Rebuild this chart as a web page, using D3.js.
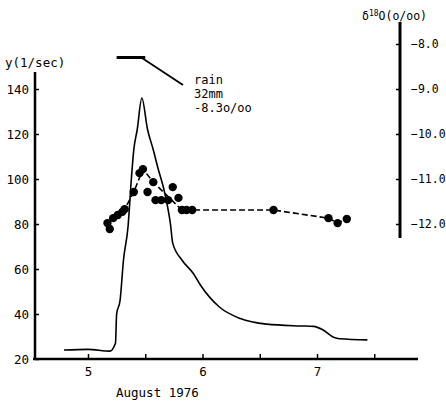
<!DOCTYPE html>
<html>
<head>
<meta charset="utf-8">
<script src="https://cdn.jsdelivr.net/npm/d3@7"></script>
<style>
  body { margin: 0; background: #fff; }
  svg text { font-family: "DejaVu Sans Mono", "Liberation Mono", monospace; fill: #000; }
</style>
</head>
<body>
<svg id="chart" width="446" height="401"></svg>
<script>
// discharge y (l/sec) over time (day of August 1976)
var flowDay = [4.79, 5.00, 5.19, 5.24, 5.25, 5.28, 5.31, 5.35, 5.38, 5.40, 5.43, 5.47, 5.52, 5.57, 5.61, 5.66, 5.69, 5.72, 5.74, 5.82, 5.92, 5.98, 6.15, 6.33, 6.56, 6.85, 6.97, 7.05, 7.14, 7.20, 7.44];
var flowVal = [24, 24.3, 23.5, 27, 40, 46, 64, 79, 101, 113, 122, 136, 122, 113, 105, 96, 89, 80, 71.5, 64, 58, 53, 43, 38, 35.5, 34.7, 34.5, 33, 29.8, 29, 28.5];

// delta 18O samples (o/oo)
var isoDay = [5.17, 5.19, 5.22, 5.26, 5.30, 5.32, 5.40, 5.45, 5.48, 5.52, 5.57, 5.59, 5.64, 5.70, 5.74, 5.79, 5.82, 5.86, 5.91, 6.62, 7.10, 7.18, 7.26];
var isoVal = [-11.98, -12.11, -11.87, -11.80, -11.73, -11.67, -11.29, -10.87, -10.78, -11.29, -11.07, -11.47, -11.47, -11.47, -11.18, -11.42, -11.69, -11.69, -11.69, -11.69, -11.87, -11.98, -11.89];

// dashed trend through the samples
var trendDay = [5.17, 5.32, 5.40, 5.48, 5.57, 5.82, 5.91, 6.62, 7.10, 7.18, 7.26];
var trendVal = [-11.98, -11.67, -11.29, -10.78, -11.07, -11.69, -11.69, -11.69, -11.87, -11.98, -11.89];

// rain event
var rainStart = 5.25, rainEnd = 5.50, rainIso = -8.3;
var rainLabel = ["rain", "32mm", "-8.3o/oo"];

var dayTicks = [5, 5.5, 6, 6.5, 7, 7.5];
var flowTicks = [20, 40, 60, 80, 100, 120, 140];
var isoTicks = [-8, -9, -10, -11, -12];

var svg = d3.select("#chart");

var x = d3.scaleLinear().domain([5, 7]).range([88, 317]);
var yFlow = d3.scaleLinear().domain([20, 140]).range([359, 89]);
var yIso = d3.scaleLinear().domain([-12, -8]).range([224, 44]);

// axes
var xAxis = d3.axisBottom(x).tickValues(dayTicks).tickSizeInner(-5).tickSizeOuter(0).tickPadding(8)
  .tickFormat(function(d) { return d % 1 === 0 ? d3.format("d")(d) : ""; });
var gx = svg.append("g").attr("transform", "translate(0,359)").call(xAxis);
gx.select(".domain").remove();
gx.selectAll("line").attr("stroke", "#000").attr("stroke-width", 1.5);
gx.selectAll("text").style("font-size", "12.5px");
svg.append("line").attr("x1", 33).attr("x2", 418).attr("y1", 359).attr("y2", 359)
  .attr("stroke", "#000").attr("stroke-width", 2.5);

var yAxis = d3.axisLeft(yFlow).tickValues(flowTicks).tickSizeInner(-4).tickSizeOuter(0).tickPadding(6);
var gy = svg.append("g").attr("transform", "translate(35,0)").call(yAxis);
gy.select(".domain").remove();
gy.selectAll("line").attr("stroke", "#000").attr("stroke-width", 1.5);
gy.selectAll("text").style("font-size", "12.5px");
svg.append("line").attr("x1", 35).attr("x2", 35).attr("y1", 72).attr("y2", 359)
  .attr("stroke", "#000").attr("stroke-width", 2.5);

var rAxis = d3.axisRight(yIso).tickValues(isoTicks).tickSizeInner(-4).tickSizeOuter(0).tickPadding(11)
  .tickFormat(d3.format(".1f"));
var gr = svg.append("g").attr("transform", "translate(400,0)").call(rAxis);
gr.select(".domain").remove();
gr.selectAll("line").attr("stroke", "#000").attr("stroke-width", 1.5);
gr.selectAll("text").style("font-size", "11.5px");
svg.append("line").attr("x1", 400).attr("x2", 400).attr("y1", 22).attr("y2", 238)
  .attr("stroke", "#000").attr("stroke-width", 3);

// axis titles
svg.append("text").attr("x", 5).attr("y", 67).style("font-size", "12.5px").text("y(1/sec)");
svg.append("text").attr("x", 116).attr("y", 397).style("font-size", "12.5px").text("August 1976");
var rt = svg.append("text").attr("x", 362).attr("y", 20).style("font-size", "11.5px");
rt.append("tspan").text("\u03b4");
rt.append("tspan").attr("dy", -4).style("font-size", "8px").text("18");
rt.append("tspan").attr("dy", 4).text("O(o/oo)");

// discharge line
var flowData = flowDay.map(function(d, i) { return [d, flowVal[i]]; });
var flowLine = d3.line()
  .x(function(d) { return x(d[0]); })
  .y(function(d) { return yFlow(d[1]); })
  .curve(d3.curveMonotoneX);
svg.append("path").datum(flowData).attr("d", flowLine)
  .attr("fill", "none").attr("stroke", "#000").attr("stroke-width", 1.6);

// isotope trend
var trendData = trendDay.map(function(d, i) { return [d, trendVal[i]]; });
var isoLine = d3.line()
  .x(function(d) { return x(d[0]); })
  .y(function(d) { return yIso(d[1]); });
svg.append("path").datum(trendData).attr("d", isoLine)
  .attr("fill", "none").attr("stroke", "#000").attr("stroke-width", 1.6)
  .attr("stroke-dasharray", "6,3");

// isotope dots
var isoData = isoDay.map(function(d, i) { return [d, isoVal[i]]; });
svg.append("g").selectAll("circle").data(isoData).enter().append("circle")
  .attr("cx", function(d) { return x(d[0]); })
  .attr("cy", function(d) { return yIso(d[1]); })
  .attr("r", 4.2)
  .attr("fill", "#000");

// rain bar + leader
svg.append("line").attr("x1", x(rainStart)).attr("x2", x(rainEnd))
  .attr("y1", yIso(rainIso)).attr("y2", yIso(rainIso))
  .attr("stroke", "#000").attr("stroke-width", 3);
svg.append("line").attr("x1", x(rainEnd) - 4).attr("y1", yIso(rainIso))
  .attr("x2", 183).attr("y2", 85)
  .attr("stroke", "#000").attr("stroke-width", 1.8);
svg.append("g").selectAll("text").data(rainLabel).enter().append("text")
  .attr("x", 194)
  .attr("y", function(d, i) { return 84 + i * 14; })
  .style("font-size", "12px")
  .text(function(d) { return d; });
</script>
</body>
</html>
